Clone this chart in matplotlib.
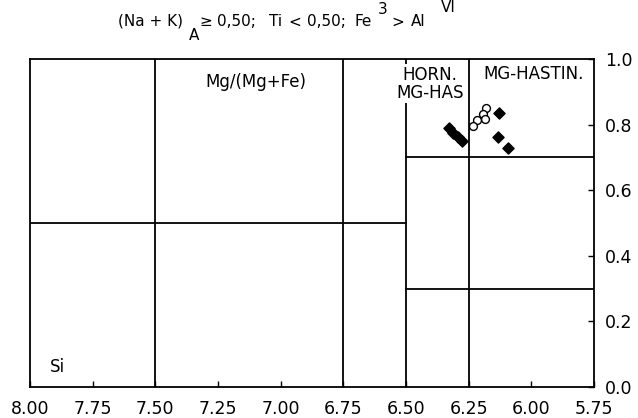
import matplotlib.pyplot as plt
import numpy as np

# Si (apfu) vs Mg/(Mg+Fe) -- Leake amphibole field, (Na+K)A >= 0.50
si_filled = [6.328, 6.312, 6.292, 6.276, 6.129, 6.133, 6.093]
mg_filled = [0.790, 0.774, 0.762, 0.750, 0.834, 0.763, 0.730]

si_open = [6.180, 6.192, 6.184, 6.216, 6.232]
mg_open = [0.851, 0.832, 0.817, 0.814, 0.796]

x_ticks = [8.00, 7.75, 7.50, 7.25, 7.00, 6.75, 6.50, 6.25, 6.00, 5.75]
y_ticks = [0.0, 0.2, 0.4, 0.6, 0.8, 1.0]

# field boundaries: (x0, x1, y0, y1)
field_lines = [
    (7.50, 7.50, 0.0, 1.0),
    (6.75, 6.75, 0.0, 1.0),
    (6.50, 6.50, 0.0, 1.0),
    (6.25, 6.25, 0.0, 1.0),
    (8.00, 6.50, 0.5, 0.5),
    (6.50, 5.75, 0.7, 0.7),
    (6.50, 5.75, 0.3, 0.3),
]

W, H = 638, 418
fig = plt.figure(figsize=(W / 100, H / 100), dpi=100)
ax = fig.add_axes([30 / W, 31 / H, 564 / W, 328 / H])

for x0, x1, y0, y1 in field_lines:
    ax.plot([x0, x1], [y0, y1], color="black", lw=1.3, zorder=1)

ax.scatter(si_filled, mg_filled, marker="D", s=32, color="black", zorder=3)
ax.scatter(si_open, mg_open, marker="o", s=32, facecolor="white",
           edgecolor="black", linewidths=1.0, zorder=4)

box = dict(facecolor="white", edgecolor="none", pad=1)
ax.text(7.10, 0.93, "Mg/(Mg+Fe)", ha="center", va="center", fontsize=12)
ax.text(7.92, 0.06, "Si", ha="left", va="center", fontsize=12)
ax.text(6.405, 0.925, "HORN.\nMG-HAS", ha="center", va="center",
        fontsize=12, linespacing=1.0, bbox=box, zorder=2)
ax.text(5.99, 0.955, "MG-HASTIN.", ha="center", va="center", fontsize=12)

ax.set_xlim(8.00, 5.75)
ax.set_ylim(0.0, 1.0)
ax.set_xticks(x_ticks)
ax.set_xticklabels([f"{v:.2f}" for v in x_ticks])
ax.set_yticks(y_ticks)
ax.set_yticklabels([f"{v:.1f}" for v in y_ticks])
ax.yaxis.tick_right()
ax.tick_params(axis="both", direction="in", length=4, width=1.0,
               labelsize=12.5, colors="black")
ax.tick_params(axis="x", pad=9)
ax.tick_params(axis="y", pad=8)
for s in ax.spines.values():
    s.set_linewidth(1.3)

# title pieces with full-size sub/superscripts, as in the scanned original
title_parts = [
    (150, 21, "(Na + K)"),
    (194, 35, "A"),
    (206, 22, "≥"),
    (236, 21, "0,50;"),
    (276, 21, "Ti"),
    (295, 22, "<"),
    (326, 21, "0,50;"),
    (363, 21, "Fe"),
    (383, 10, "3"),
    (398, 22, ">"),
    (418, 21, "Al"),
    (448, 8, "VI"),
]
for px, py, s in title_parts:
    fig.text(px / W, 1 - py / H, s, ha="center", va="center", fontsize=11)

fig.savefig("out.png", dpi=100)
